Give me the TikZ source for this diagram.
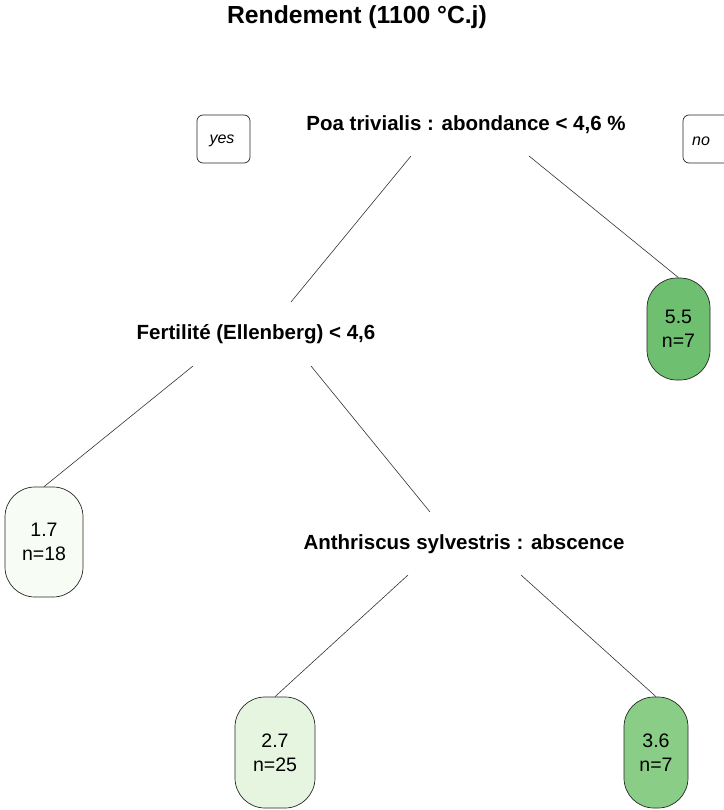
\documentclass[tikz,border=0pt]{standalone}
\usepackage{fontspec}
\setmainfont{Liberation Sans}
\definecolor{gA}{RGB}{110,192,112}
\definecolor{gB}{RGB}{138,205,134}
\definecolor{gC}{RGB}{229,245,224}
\definecolor{gD}{RGB}{247,252,245}
\begin{document}
\begin{tikzpicture}[x=1pt,y=-1pt,
  lab/.style={font=\bfseries\fontsize{20.5}{24}\selectfont, inner sep=0pt},
  leaf/.style={draw=black!85, line width=0.7pt, rounded corners=30pt, inner sep=0pt,
     align=center, font=\fontsize{19.5}{24}\selectfont},
  yn/.style={draw=black!85, line width=0.7pt, rounded corners=6pt, inner sep=0pt,
     minimum width=53pt, minimum height=48pt},
  ynt/.style={font=\itshape\fontsize{16}{18}\selectfont, inner sep=0pt},
  edge/.style={draw=black!80, line width=0.6pt}]
\useasboundingbox (0,0) rectangle (723,810);
\node[font=\bfseries\fontsize{24.7}{28}\selectfont, inner sep=0pt] (title) at (357,17) {Rendement (1100 °C.j)};
\node[lab] (root) at (466,125) {Poa trivialis : abondance < 4,6 \%};
\node[lab] (fert) at (256,334) {Fertilité (Ellenberg) < 4,6};
\node[lab] (anth) at (464,544) {Anthriscus sylvestris : abscence};
\node[yn] (yesbox) at (223.5,139) {};
\node[ynt] (yes) at (222,141) {yes};
\node[yn] (nobox) at (709.5,139) {};
\node[ynt] (no) at (701,141) {no};
\node[leaf, fill=gA, minimum width=63pt, minimum height=102pt] (n55) at (678.5,329) {5.5\\n=7};
\node[leaf, fill=gD, minimum width=78pt, minimum height=110pt] (n17) at (44,542) {1.7\\n=18};
\node[leaf, fill=gC, minimum width=80pt, minimum height=111pt] (n27) at (275,752.5) {2.7\\n=25};
\node[leaf, fill=gB, minimum width=64pt, minimum height=111pt] (n36) at (656,752.5) {3.6\\n=7};
\coordinate (rL) at (411,156);
\coordinate (rR) at (529,156);
\coordinate (fL) at (193,366);
\coordinate (fR) at (311,366);
\coordinate (fT) at (291,302);
\coordinate (aT) at (430,512);
\coordinate (aL) at (408,575);
\coordinate (aR) at (521,575);
\draw[edge] (rL) -- (fT);
\draw[edge] (rR) -- (n55.north);
\draw[edge] (fL) -- (n17.north);
\draw[edge] (fR) -- (aT);
\draw[edge] (aL) -- (n27.north);
\draw[edge] (aR) -- (n36.north);
\end{tikzpicture}
\end{document}
